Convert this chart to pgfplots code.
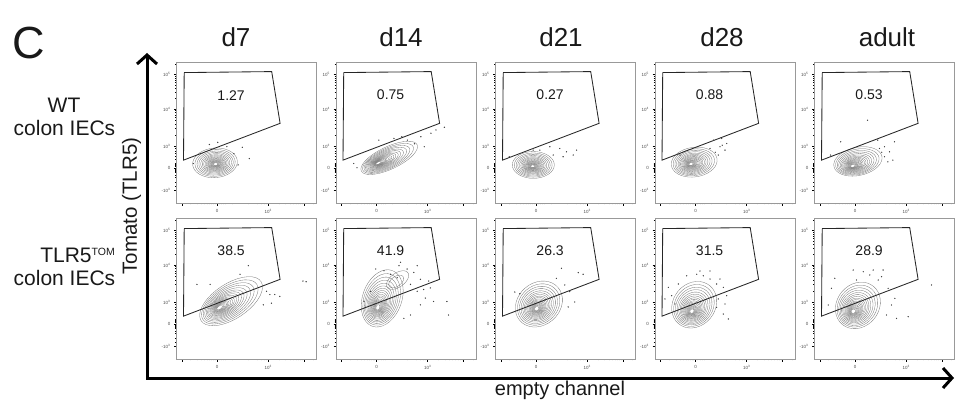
\documentclass[border=0pt]{standalone}
\usepackage{fontspec}
\setmainfont{Liberation Sans}
\usepackage{pgfplots}
\usepackage{pgfplotstable}
\pgfplotsset{compat=1.18}
\usetikzlibrary{arrows.meta}

% unit circle, 10 degree steps (shape for the contour rings)
\pgfplotstableread{
u v
1 0
0.985 0.174
0.940 0.342
0.866 0.500
0.766 0.643
0.643 0.766
0.500 0.866
0.342 0.940
0.174 0.985
0 1
-0.174 0.985
-0.342 0.940
-0.500 0.866
-0.643 0.766
-0.766 0.643
-0.866 0.500
-0.940 0.342
-0.985 0.174
-1 0
-0.985 -0.174
-0.940 -0.342
-0.866 -0.500
-0.766 -0.643
-0.643 -0.766
-0.500 -0.866
-0.342 -0.940
-0.174 -0.985
0 -1
0.174 -0.985
0.342 -0.940
0.500 -0.866
0.643 -0.766
0.766 -0.643
0.866 -0.500
0.940 -0.342
0.985 -0.174
1 0
}\unitc

% #1,#2 core; #3,#4 outer centre; #5,#6 semi axes; #7 tilt
\newcommand{\contours}[7]{%
  \pgfplotsinvokeforeach{1,0.9,0.81,0.73,0.65,0.58,0.52,0.46,0.41,0.36,0.32,0.28,0.24,0.21,0.18,0.15,0.12,0.09}{%
    \addplot[cont] table[
      x expr={#1+##1*(#3-#1)+##1*(#5*cos(#7)*\thisrow{u}-#6*sin(#7)*\thisrow{v})},
      y expr={#2+##1*(#4-#2)+##1*(#5*sin(#7)*\thisrow{u}+#6*cos(#7)*\thisrow{v})}] {\unitc};
  }%
}
\newcommand{\gate}{\addplot[gate] coordinates {(5.5,92.5)(68,93.2)(74,56.5)(5,30.4)(5.5,92.5)};}

\pgfplotsset{
  facs/.style={
    width=140pt, height=141pt, scale only axis, anchor=south west,
    xmin=0, xmax=100, ymin=0, ymax=100,
    axis line style={draw=black!40, line width=0.5pt},
    tick align=outside, xtick pos=bottom, ytick pos=left,
    major tick length=2.5pt, minor tick length=1.4pt,
    every tick/.style={black, line width=0.45pt},
    ytick={9,25,40,66.7,91.2},
    yticklabels={-10\textsuperscript{3},0,10\textsuperscript{3},10\textsuperscript{4},10\textsuperscript{5}},
    minor ytick={12,15,18,20,21.5,22.5,23.5,24.2,25.8,26.5,27.5,28.5,31,33,35,37,38.5,48,52.7,56.1,58.7,60.8,62.6,64.1,65.5,74.1,78.4,81.5,83.8,85.8,87.4,88.8,90.1,98.6},
    xtick={4,29,65.5,91},
    xticklabels={,0,10\textsuperscript{3},},
    minor xtick={10,15,18,20,22,23.5,25,26.5,27.5,30.5,32,33.5,35,40,51,57.4,60.5,62.5,64,73.2,77.7,80.9,83.3,85.3,87.1,88.5,89.8,98},
    tick label style={font=\fontsize{4.5}{5}\selectfont, text=black!70},
  },
  cont/.style={black!55, line width=0.3pt, forget plot},
  dots/.style={only marks, mark=*, mark size=0.4pt, black!75},
  gate/.style={black!85, line width=0.85pt},
}
\tikzset{glab/.style={font=\fontsize{14}{16}\selectfont, text=black!90}}

\begin{document}
\begin{tikzpicture}
\useasboundingbox (0,0) rectangle (957pt,405pt);

% ---- row 1: WT
\begin{axis}[facs, at={(176.5pt,202pt)}]
\contours{28}{27.5}{27.5}{28.5}{16}{10.5}{5}
\addplot[dots] coordinates {(23.5,41.5)(29.5,43)(41,35)(47,39.5)(52,31.5)(12,28)(44,27)(36,40)};
\gate
\node[glab] at (axis cs:39,76.5) {1.27};
\end{axis}

\begin{axis}[facs, at={(336pt,202pt)}]
\contours{29.5}{28}{38}{32}{22}{8}{25}
\addplot[dots] coordinates {(30.6,44.6)(41.4,45.8)(51,44.6)(60.6,47)(67.8,49.5)(71.4,51.8)(77.4,53.7)(63,39.9)(12.7,28)(56,42)(47,47)(15,25)};
\gate
\node[glab] at (axis cs:39,76.5) {0.75};
\end{axis}

\begin{axis}[facs, at={(495.5pt,202pt)}]
\contours{26.5}{26}{27}{27}{15}{9.5}{0}
\addplot[dots] coordinates {(26.9,37.5)(38.8,39.9)(45.9,38.7)(50.7,36.3)(55.5,34)(41.2,34)(48.3,32.8)(31.7,37.5)(57.9,37.5)(9.8,32.8)};
\gate
\node[glab] at (axis cs:39,76.5) {0.27};
\end{axis}

\begin{axis}[facs, at={(655pt,202pt)}]
\contours{25.5}{27.5}{28}{29}{16.5}{10.5}{8}
\addplot[dots] coordinates {(41.7,44.6)(46.4,39.9)(50,37.5)(45.2,34)(51.2,42.2)(39.3,38.7)(47.6,45.8)(17.9,34)(43,36)(48,41)};
\gate
\node[glab] at (axis cs:39,76.5) {0.88};
\end{axis}

\begin{axis}[facs, at={(814.5pt,202pt)}]
\contours{27}{26}{31}{29.5}{17.5}{10}{12}
\addplot[dots] coordinates {(37.9,58.7)(50,39.9)(53.6,36.3)(57.1,43.4)(45.2,44.6)(50,32.8)(52.4,29.2)(11.5,34)(18.7,43.4)(46.4,38.7)(56,30.4)(48,36)};
\gate
\node[glab] at (axis cs:39,76.5) {0.53};
\end{axis}

% ---- row 2: TLR5-TOM
\begin{axis}[facs, at={(176.5pt,46pt)}]
\contours{30}{36}{39}{41}{25.5}{12.5}{33}
\addplot[dots] coordinates {(51.3,66.2)(45.4,60.1)(24,52.9)(64.3,48)(66.7,45.7)(70.2,45.7)(67.8,39.6)(73.8,44.4)(90.3,55.3)(92.6,54.8)(62,38.4)(14.6,52.9)};
\gate
\node[glab] at (axis cs:39,76.5) {38.5};
\end{axis}

\begin{axis}[facs, at={(336pt,46pt)}]
\contours{29.6}{36}{33}{43}{21}{14}{70}
\addplot[cont] table[x expr={44+9*cos(35)*\thisrow{u}-5*sin(35)*\thisrow{v}}, y expr={56+9*sin(35)*\thisrow{u}+5*cos(35)*\thisrow{v}}] {\unitc};
\addplot[cont] table[x expr={43+6*cos(35)*\thisrow{u}-3.5*sin(35)*\thisrow{v}}, y expr={55+6*sin(35)*\thisrow{u}+3.5*cos(35)*\thisrow{v}}] {\unitc};
\addplot[dots] coordinates {(39,60.1)(45,66.2)(50.8,63.8)(55.6,61.4)(58,66.2)(53.2,52.9)(58,48)(62.6,49.3)(63.8,43.2)(60.3,38.4)(53.2,31.2)(48.5,28.8)(67.4,50.4)(69.7,40.8)(79.2,40.8)(80.4,31.2)(24.8,48)(20,40.8)(34.3,62.6)(28.4,63.8)(43.7,57.7)(60.3,56.5)(46.1,68.6)(66.2,55.3)};
\gate
\node[glab] at (axis cs:39,76.5) {41.9};
\end{axis}

\begin{axis}[facs, at={(495.5pt,46pt)}]
\contours{29.3}{35.5}{31}{39}{18}{15}{40}
\addplot[dots] coordinates {(47.1,64.3)(43.5,57.2)(49.5,52.5)(53,47.8)(59.1,61.3)(62.6,60.1)(56.6,40.4)(17.4,46.3)(13.8,47.5)(51.9,36.9)};
\gate
\node[glab] at (axis cs:39,76.5) {26.3};
\end{axis}

\begin{axis}[facs, at={(655pt,46pt)}]
\contours{26.2}{33.5}{28}{38.5}{17.5}{15}{50}
\addplot[dots] coordinates {(22.6,59)(29.8,60.1)(34.5,59)(39.3,56.7)(44,53.2)(48.8,50.8)(51.2,44.9)(50,39)(44,36.6)(9.5,50.8)(7.1,42.6)(11.9,44.9)(16.7,53.2)(48.8,31.9)(52.4,28.4)(39.3,62.4)(32.1,62.4)(46.4,56.7)(14.3,39)(45.2,42.6)};
\gate
\node[glab] at (axis cs:39,76.5) {31.5};
\end{axis}

\begin{axis}[facs, at={(814.5pt,46pt)}]
\contours{27.5}{33.5}{31}{38}{17.5}{15}{50}
\addplot[dots] coordinates {(27.6,63.1)(34.8,61.9)(41.9,63.1)(47.9,58.4)(52.6,50.1)(55,38.3)(51.4,31.2)(58.6,28.8)(14.5,57.2)(12.1,50.1)(9.8,38.3)(45.5,56)(57.4,43)(66.9,30)(83.6,52.5)(30,56)(49,63.1)(39.5,59.6)};
\gate
\node[glab] at (axis cs:39,76.5) {28.9};
\end{axis}

% ---- big axes arrows
\draw[line width=3pt, line join=miter,
  {Straight Barb[length=9pt,width=20pt]}-{Straight Barb[length=9pt,width=20pt]}]
  (147pt,352pt) -- (147pt,27pt) -- (954pt,27pt);

% ---- texts
\node[anchor=base west, font=\fontsize{45}{50}\selectfont, text=black!90] at (9pt,346.5pt) {C};
\begin{scope}[every node/.style={anchor=base, font=\fontsize{26}{28}\selectfont, text=black!90}]
\node at (236pt,358pt) {d7};
\node at (401pt,358pt) {d14};
\node at (561pt,358pt) {d21};
\node at (722pt,358pt) {d28};
\node at (887pt,358pt) {adult};
\end{scope}
\begin{scope}[every node/.style={anchor=base, font=\fontsize{21}{24}\selectfont, text=black!90}]
\node at (64pt,292pt) {WT};
\node at (64.5pt,270pt) {colon IECs};
\node at (77.5pt,143pt) {TLR5\raisebox{6.5pt}{\fontsize{10.5}{12}\selectfont TOM}};
\node at (64.5pt,120pt) {colon IECs};
\end{scope}
\node[rotate=90, font=\fontsize{20.5}{23}\selectfont, text=black!90] at (131.5pt,199pt) {Tomato (TLR5)};
\node[anchor=base, font=\fontsize{20}{22}\selectfont, text=black!90] at (560pt,10pt) {empty channel};
\end{tikzpicture}
\end{document}
